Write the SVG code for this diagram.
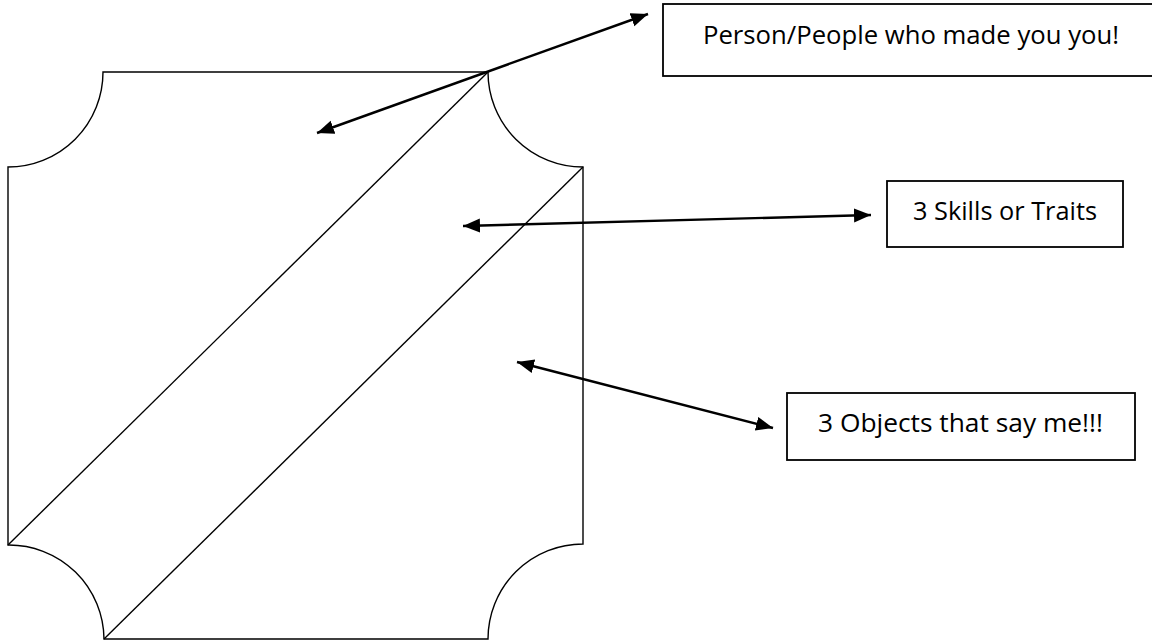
<svg xmlns="http://www.w3.org/2000/svg" width="1152" height="640" viewBox="0 0 1152 640">
<style>
.shape{fill:none;stroke:#000;stroke-width:1.4}
.box{fill:#fff;stroke:#000;stroke-width:1.8}
.arrow{fill:none;stroke:#000;stroke-width:2.4;marker-start:url(#ah);marker-end:url(#ah)}
.lbl{font-family:"Open Sans","Liberation Sans",sans-serif;font-size:25px;fill:#000}
</style>
<defs>
<marker id="ah" markerUnits="userSpaceOnUse" markerWidth="20" markerHeight="16" refX="17" refY="7" orient="auto-start-reverse" viewBox="0 0 20 16">
<path d="M0,0 L17,7 L0,14 z" fill="#000"/>
</marker>
</defs>
<rect width="1152" height="640" fill="#fff"/>
<g id="frame">
<path class="shape" d="M103,72 L488,72 A95,95 0 0 0 583,167 L583,544 A95,95 0 0 0 488,639 L104,639 A95,95 0 0 0 8,545 L8,167 A95,95 0 0 0 103,72 Z"/>
<line class="shape" x1="488" y1="72" x2="8" y2="545"/>
<line class="shape" x1="583" y1="167" x2="104" y2="639"/>
</g>
<g id="box-people">
<rect class="box" x="663" y="4" width="500" height="72"/>
<text class="lbl" x="703" y="44" textLength="416" lengthAdjust="spacingAndGlyphs">Person/People who made you you!</text>
</g>
<g id="box-skills">
<rect class="box" x="887" y="181" width="236" height="66"/>
<text class="lbl" x="913" y="220" textLength="184" lengthAdjust="spacingAndGlyphs">3 Skills or Traits</text>
</g>
<g id="box-objects">
<rect class="box" x="787" y="393" width="348" height="67"/>
<text class="lbl" x="818" y="432" textLength="285" lengthAdjust="spacingAndGlyphs">3 Objects that say me!!!</text>
</g>
<g id="connectors">
<line class="arrow" x1="317" y1="133" x2="648" y2="14"/>
<line class="arrow" x1="463" y1="226" x2="871" y2="215"/>
<line class="arrow" x1="517" y1="362" x2="773" y2="428"/>
</g>
</svg>
